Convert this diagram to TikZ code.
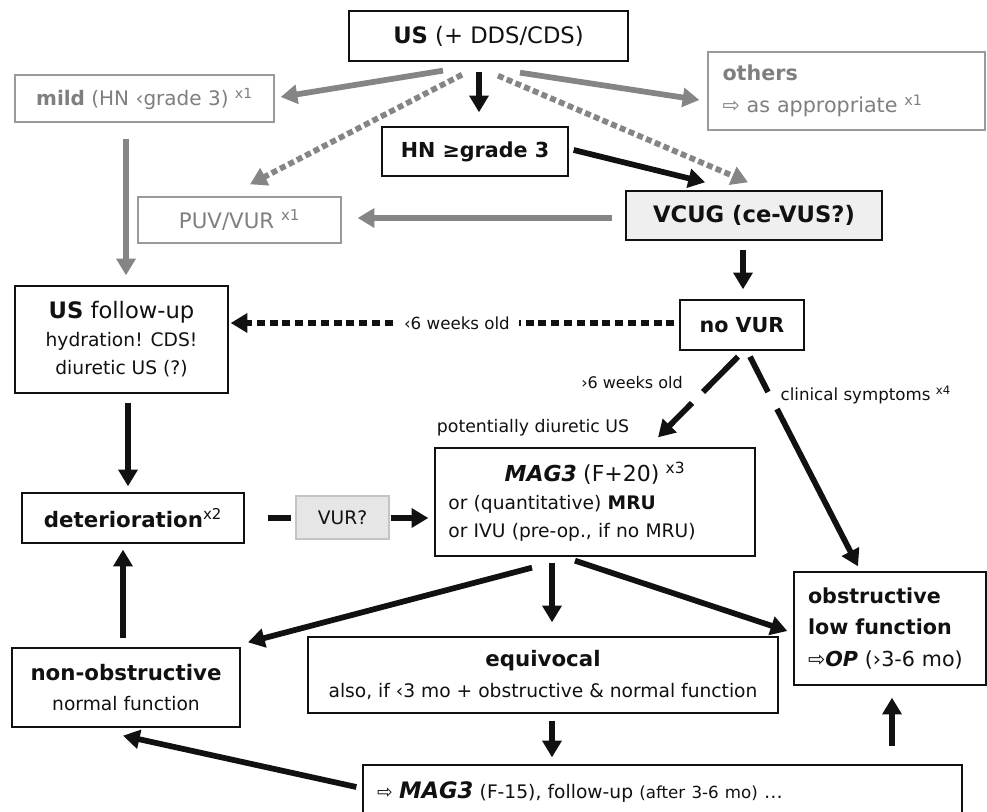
\documentclass[tikz,border=0pt]{standalone}
\usepackage{fontspec}
\setmainfont{DejaVu Sans}
\usetikzlibrary{arrows.meta,calc}
\definecolor{gr}{HTML}{858585}
\definecolor{grtext}{HTML}{7F7F7F}
\definecolor{grbox}{HTML}{9A9A9A}
\definecolor{ink}{HTML}{111111}
\definecolor{vcfill}{HTML}{EFEFEF}
\definecolor{vurfill}{HTML}{E6E6E6}
\definecolor{vurbox}{HTML}{C4C4C4}
\begin{document}
\begin{tikzpicture}[x=0.75pt,y=-0.75pt,
 box/.style={draw=ink,line width=1pt,inner sep=0pt,align=center,text=ink},
 gbox/.style={draw=grbox,line width=1pt,inner sep=0pt,align=center,text=grtext},
 arr/.style={draw=ink,line width=4.3pt,-{Triangle[length=12.5pt,width=14pt]}},
 plain/.style={draw=ink,line width=4.3pt},
 garr/.style={draw=gr,line width=4.3pt,-{Triangle[length=12.5pt,width=14pt]}},
 gdot/.style={garr,dash pattern=on 4.5pt off 2.6pt},
 bdot/.style={arr,dash pattern=on 6pt off 3.6pt},
 lab/.style={inner sep=1pt,text=ink,font=\fontsize{12.5}{14}\selectfont},
 fbig/.style={font=\fontsize{17}{20}\selectfont},
 fmid/.style={font=\fontsize{15.5}{19}\selectfont},
 fsmall/.style={font=\fontsize{14}{21}\selectfont}
]
\clip (0,0) rectangle (987,812);
\fill[white] (0,0) rectangle (987,812);

% nodes
\node[box,fbig,minimum width=209.25pt,minimum height=37.5pt] (US) at (488.5,36) {\textbf{US} (+ DDS/CDS)};
\node[gbox,font=\fontsize{15}{18}\selectfont,minimum width=194.25pt,minimum height=35.25pt] (mild) at (144.5,98.5) {\textbf{mild} (HN ‹grade 3) \textsuperscript{x1}};
\node[gbox,font=\fontsize{15.5}{24}\selectfont,minimum width=207.75pt,minimum height=58.5pt,align=left,text width=186pt] (others) at (846.5,91) {\textbf{others}\\⇨ as appropriate \textsuperscript{x1}};
\node[box,fmid,minimum width=139.5pt,minimum height=36.75pt] (HN) at (475,151.5) {\textbf{HN ≥grade 3}};
\node[box,fbig,fill=vcfill,minimum width=192pt,minimum height=36.75pt] (VCUG) at (754,215.5) {\textbf{VCUG (ce-VUS?)}};
\node[gbox,font=\fontsize{16}{19}\selectfont,minimum width=152.25pt,minimum height=34.5pt] (PUV) at (239.5,220) {PUV/VUR \textsuperscript{x1}};
\node[box,fsmall,minimum width=159.75pt,minimum height=80.25pt] (USfu) at (121.5,339.5) {{\fontsize{17}{20}\selectfont\textbf{US} follow-up}\\hydration! CDS!\\diuretic US (?)};
\node[box,fmid,minimum width=93pt,minimum height=37.5pt] (noVUR) at (742,325) {\textbf{no VUR}};
\node[box,font=\fontsize{16}{19}\selectfont,minimum width=166.5pt,minimum height=37.5pt] (det) at (133,518) {\textbf{deterioration}\textsuperscript{x2}};
\node[draw=vurbox,line width=1pt,fill=vurfill,text=ink,inner sep=0pt,font=\fontsize{14}{17}\selectfont,minimum width=69.75pt,minimum height=32.25pt] (VURq) at (342.5,517.5) {VUR?};
\node[box,fsmall,minimum width=240pt,minimum height=81pt,align=left,text width=220pt] (MAG3) at (595,502) {\hfill{\fontsize{16.5}{21}\selectfont\textbf{\textit{MAG3}} (F+20) \textsuperscript{x3}}\hfill\hbox{}\\or (quantitative) \textbf{MRU}\\or IVU (pre-op., if no MRU)};
\node[box,font=\fontsize{15.5}{23.5}\selectfont,minimum width=144pt,minimum height=84.75pt,align=left,text width=123pt] (obstr) at (890,628.5) {\textbf{obstructive}\\\textbf{low function}\\⇨\textbf{\textit{OP}} (›3-6 mo)};
\node[box,font=\fontsize{14}{22}\selectfont,minimum width=171pt,minimum height=59.25pt] (nonobs) at (126,687.5) {{\fontsize{16}{19}\selectfont\textbf{non-obstructive}}\\normal function};
\node[box,font=\fontsize{14}{23}\selectfont,minimum width=352.5pt,minimum height=57pt] (equiv) at (543,675) {{\fontsize{16}{19}\selectfont\textbf{equivocal}}\\also, if ‹3 mo + obstructive \& normal function};
\node[box,fsmall,minimum width=449.25pt,minimum height=40.5pt,align=left,text width=428pt] (bottom) at (662.5,792) {⇨ {\fontsize{17}{19}\selectfont\textbf{\textit{MAG3}}} (F-15), follow-up {\fontsize{12.5}{14}\selectfont(after 3-6 mo)} …};

% labels
\node[lab,font=\fontsize{12}{14}\selectfont] (gt6) at (632,383) {›6 weeks old};
\node[lab,font=\fontsize{13}{15}\selectfont] (pot) at (533,428) {potentially diuretic US};
\node[lab,anchor=west] (clin) at (779,395) {clinical symptoms \textsuperscript{x4}};

% gap coordinates
\coordinate (g1) at (703,392);
\coordinate (g2) at (692,403);
\coordinate (g3) at (768,392);
\coordinate (g4) at (777,409);

% connectors
\draw[garr] ($(US.south)+(-45.5,9)$) -- ($(mild.east)+(6,-1.5)$);
\draw[gdot] ($(US.south)+(-26.5,13)$) -- ($(PUV.north)+(10.5,-12)$);
\draw[arr] ($(US.south)+(-9.5,10)$) -- ($(HN.north)+(4,-14)$);
\draw[gdot] ($(US.south)+(9.5,14)$) -- ($(VCUG.north)+(-6,-8)$);
\draw[garr] ($(US.south)+(31.5,11)$) -- ($(others.west)+(-8,9)$);
\draw[arr] ($(HN.east)+(5,-1.5)$) -- ($(VCUG.north)+(-49,-8)$);
\draw[garr] ($(VCUG.west)+(-13,2.5)$) -- ($(PUV.east)+(16,-2)$);
\draw[garr] ($(mild.south)+(-18.5,16)$) -- ($(USfu.north)+(4.5,-10)$);
\draw[arr] ($(VCUG.south)+(-11,9)$) -- ($(noVUR.north)+(1,-10)$);
\draw[bdot] ($(noVUR.west)+(-5,-2)$) -- node[pos=0.49,fill=white,inner sep=7pt,text=ink,font=\fontsize{12.5}{14}\selectfont] (lt6) {‹6 weeks old} ($(USfu.east)+(2,-16.5)$);
\draw[plain] ($(noVUR.south)+(-4,6)$) -- (g1);
\draw[arr] (g2) -- ($(MAG3.north)+(63,-10)$);
\draw[plain] ($(noVUR.south)+(8,6)$) -- (g3);
\draw[arr] (g4) -- ($(obstr.north)+(-32,-5)$);
\draw[arr] ($(USfu.south)+(6.5,9)$) -- ($(det.north)+(-5,-6)$);
\draw[plain] ($(det.east)+(23,0)$) -- ($(VURq.west)+(-4,0.5)$);
\draw[arr] ($(VURq.east)+(1,0.5)$) -- ($(MAG3.west)+(-6,16)$);
\draw[arr] ($(MAG3.south)+(-63,11)$) -- ($(nonobs.north)+(122,-5)$);
\draw[arr] ($(MAG3.south)+(-43,6)$) -- ($(equiv.north)+(9,-14)$);
\draw[arr] ($(MAG3.south)+(-20,4)$) -- ($(obstr.west)+(-6,2.5)$);
\draw[arr] ($(nonobs.north)+(-3,-9)$) -- ($(det.south)+(-10,6)$);
\draw[arr] ($(equiv.south)+(9,7)$) -- ($(bottom.north)+(-110.5,-7)$);
\draw[arr] ($(bottom.west)+(-6,-5)$) -- ($(nonobs.south)+(-3,8)$);
\draw[arr] ($(bottom.north)+(229.5,-18)$) -- ($(obstr.south)+(2,12)$);
\end{tikzpicture}
\end{document}
